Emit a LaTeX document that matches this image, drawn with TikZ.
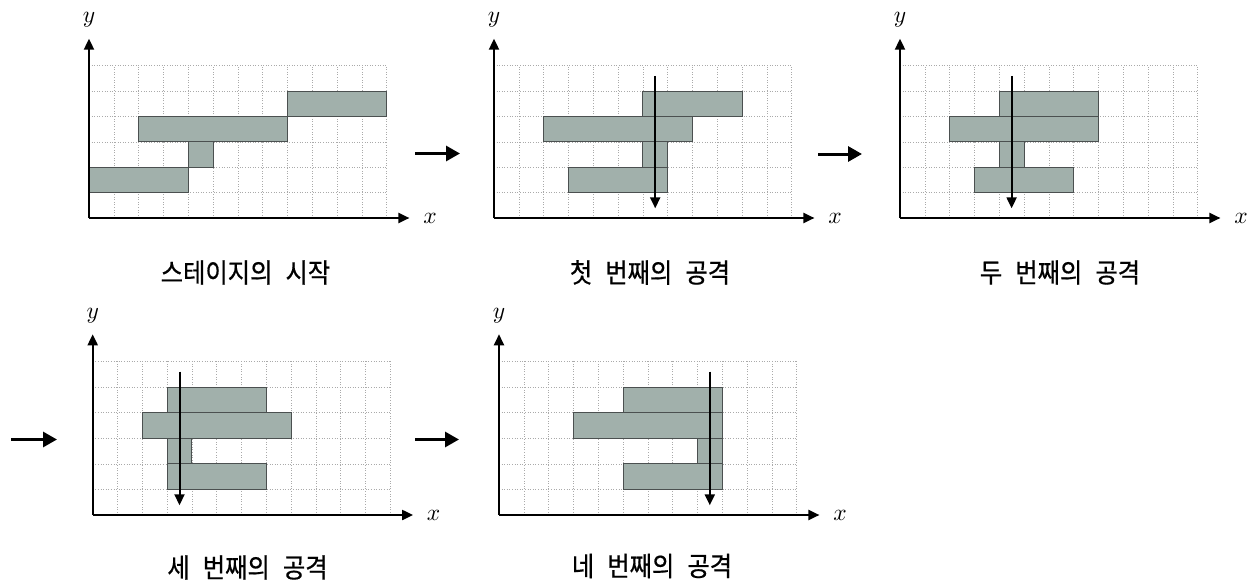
\documentclass[tikz,border=0pt]{standalone}
\usepackage{fontspec}
\newfontfamily\krfont[WordSpace=2.4, FakeStretch=0.9, FakeBold=0.6]{Noto Sans CJK KR}
\usetikzlibrary{arrows.meta}
\definecolor{blockfill}{RGB}{161,176,171}
\definecolor{blockline}{RGB}{75,80,80}
\definecolor{gridc}{RGB}{170,170,170}
\tikzset{
  gridline/.style={gridc, dotted, line width=0.6pt},
  blk/.style={fill=blockfill, draw=blockline, line width=0.9pt},
  axis/.style={line width=2pt, -{Triangle[length=11pt,width=10pt]}},
  attack/.style={line width=2pt, -{Triangle[length=11pt,width=10pt]}},
  steparrow/.style={line width=3pt, -{Triangle[length=14pt,width=15pt]}},
  lbl/.style={font=\krfont\fontsize{27}{30}\selectfont, inner sep=0pt},
  axlbl/.style={inner sep=0pt}
}
% #1 name, #2 origin x, #3 origin y, #4 cell height, #5 blocks, #6 extra
\newcommand\mypanel[6]{%
\begin{scope}[shift={(#2pt,-#3pt)}, x=24.8pt, y=#4pt]
  \foreach \i in {1,...,12} \draw[gridline] (\i,0) -- (\i,6);
  \foreach \j in {1,...,6} \draw[gridline] (0,\j) -- (12,\j);
  \foreach \a/\b/\c/\d in {#5} \draw[blk] (\a,\b) rectangle (\c,\d);
  \coordinate (#1o) at (0,0);
  \coordinate (#1xt) at (12.92,0);
  \coordinate (#1yt) at (0,7.06);
  \draw[axis] (#1o) -- (#1xt);
  \draw[axis] (#1o) -- (#1yt);
  \node[axlbl] (#1xl) at (13.75,0) {\scalebox{2.35}{$x$}};
  \node[axlbl] (#1yl) at (0,7.8) {\scalebox{2.35}{$y$}};
  #6
\end{scope}}
\newcommand\myattack[2]{%
  \coordinate (#1as) at (#2,5.6);
  \coordinate (#1ae) at (#2,0.38);
  \draw[attack] (#1as) -- (#1ae);}
\begin{document}
\begin{tikzpicture}[x=1pt,y=-1pt]
\useasboundingbox (0,0) rectangle (1257,583);
\fill[white] (0,0) rectangle (1257,583);

\mypanel{p1}{89}{218}{25.4}{0/1/4/2, 4/2/5/3, 2/3/8/4, 8/4/12/5}{}
\mypanel{p2}{494}{218}{25.4}{6/4/10/5, 2/3/8/4, 6/2/7/3, 3/1/7/2}{\myattack{p2}{6.5}}
\mypanel{p3}{900}{218}{25.4}{4/4/8/5, 2/3/8/4, 4/2/5/3, 3/1/7/2}{\myattack{p3}{4.5}}
\mypanel{p4}{92.7}{515}{25.6}{3/4/7/5, 2/3/8/4, 3/2/4/3, 3/1/7/2}{\myattack{p4}{3.5}}
\mypanel{p5}{499}{515}{25.6}{5/4/9/5, 3/3/9/4, 8/2/9/3, 5/1/9/2}{\myattack{p5}{8.5}}

\node[lbl] (l1) at (245.5,272.5) {스테이지의 시작};
\node[lbl] (l2) at (650,272.5) {첫 번째의 공격};
\node[lbl] (l3) at (1060,272.5) {두 번째의 공격};
\node[lbl] (l4) at (247.5,567.5) {세 번째의 공격};
\node[lbl] (l5) at (652,566) {네 번째의 공격};

\coordinate (s12) at (415,153.5);
\coordinate (e12) at (460,153.5);
\coordinate (s23) at (818,154);
\coordinate (e23) at (862,154);
\coordinate (s34) at (11,439.5);
\coordinate (e34) at (57,439.5);
\coordinate (s45) at (415,439.5);
\coordinate (e45) at (459,439.5);
\draw[steparrow] (s12) -- (e12);
\draw[steparrow] (s23) -- (e23);
\draw[steparrow] (s34) -- (e34);
\draw[steparrow] (s45) -- (e45);
\end{tikzpicture}
\end{document}
